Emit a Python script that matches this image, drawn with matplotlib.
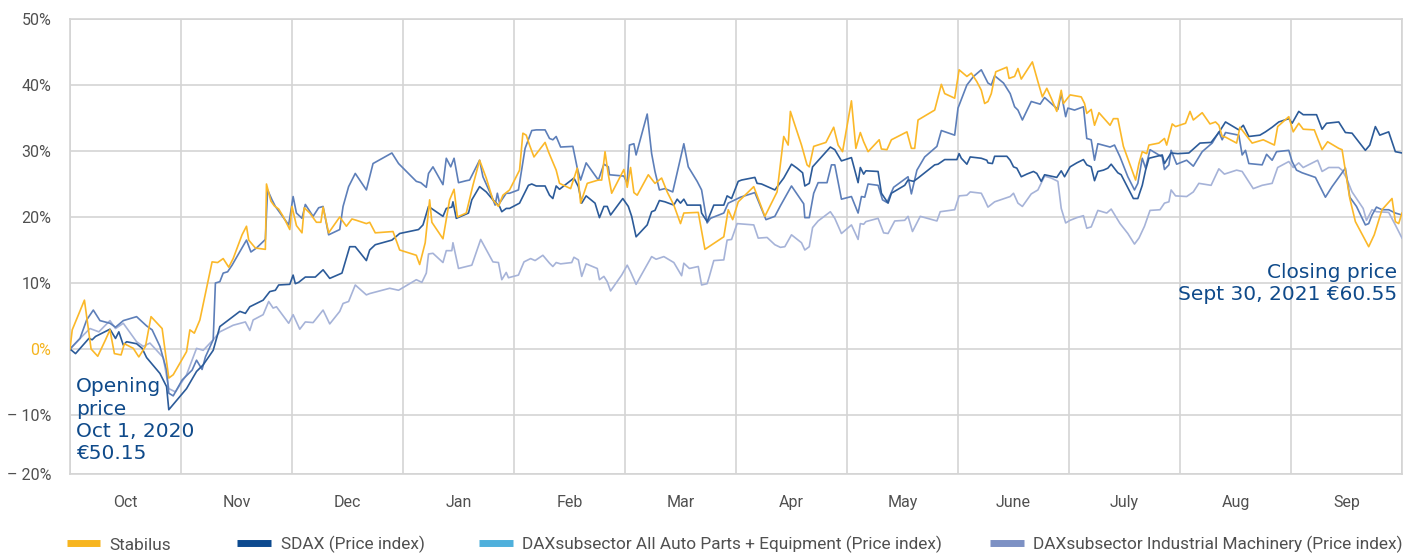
import matplotlib
matplotlib.use("Agg")
import matplotlib.pyplot as plt
from matplotlib.lines import Line2D

# ---- data: time in months since Oct 1, 2020; values in % change ----
months = ["Oct", "Nov", "Dec", "Jan", "Feb", "Mar", "Apr", "May", "June", "July", "Aug", "Sep"]
y_ticks = [50, 40, 30, 20, 10, 0, -10]
y_tick_labels = ["50%", "40%", "30%", "20%", "10%", "0%", "– 10%"]

stabilus_t = [0, .02, .13, .19, .25, .32, .36, .40, .46, .49, .57, .62, .68, .73, .83, .89, .93, 1.05, 1.08, 1.12,
              1.17, 1.28, 1.33, 1.38, 1.43, 1.47, 1.55, 1.59, 1.61, 1.67, 1.76, 1.77, 1.81, 1.84, 1.88, 1.92, 1.98,
              2.00, 2.04, 2.09, 2.11, 2.16, 2.22, 2.26, 2.28, 2.33, 2.43, 2.49, 2.54, 2.58, 2.67, 2.70, 2.75, 2.91,
              2.97, 3.12, 3.15, 3.20, 3.24, 3.26, 3.36, 3.42, 3.46, 3.49, 3.57, 3.63, 3.69, 3.75, 3.81, 3.86, 3.90,
              3.96, 4.05, 4.08, 4.11, 4.14, 4.18, 4.28, 4.31, 4.38, 4.41, 4.51, 4.57, 4.60, 4.66, 4.76, 4.79, 4.82,
              4.85, 4.88, 4.99, 5.02, 5.05, 5.08, 5.11, 5.21, 5.27, 5.33, 5.38, 5.44, 5.50, 5.53, 5.66, 5.72, 5.89,
              5.93, 5.97, 6.02, 6.16, 6.26, 6.37, 6.43, 6.47, 6.49, 6.59, 6.64, 6.66, 6.70, 6.81, 6.88, 6.92, 6.96,
              7.04, 7.08, 7.12, 7.15, 7.19, 7.29, 7.31, 7.36, 7.40, 7.54, 7.58, 7.61, 7.64, 7.79, 7.85, 7.88, 7.97,
              8.01, 8.08, 8.12, 8.17, 8.21, 8.24, 8.27, 8.30, 8.34, 8.44, 8.46, 8.51, 8.54, 8.57, 8.67, 8.72, 8.76,
              8.80, 8.84, 8.89, 8.93, 8.95, 9.01, 9.11, 9.14, 9.16, 9.20, 9.23, 9.27, 9.37, 9.40, 9.44, 9.49, 9.60,
              9.63, 9.66, 9.70, 9.72, 9.81, 9.86, 9.88, 9.93, 9.96, 10.05, 10.09, 10.12, 10.20, 10.27, 10.32, 10.35,
              10.38, 10.41, 10.51, 10.54, 10.65, 10.75, 10.85, 10.88, 10.98, 11.02, 11.07, 11.11, 11.21, 11.28,
              11.33, 11.43, 11.46, 11.53, 11.58, 11.70, 11.75, 11.82, 11.91, 11.94, 11.97, 12.0]
stabilus_v = [0, 2.9, 7.4, 0, -1.1, 1.4, 2.9, -0.7, -0.9, 0.8, 0.1, -1.2, 0.4, 4.9, 3.1, -4.4, -3.9, -0.4, 2.9, 2.4,
              4.4, 13.2, 13.1, 13.7, 12.4, 13.7, 17.3, 18.6, 16.5, 15.3, 15.1, 25.0, 22.4, 21.7, 21.2, 20.1, 18.1,
              21.6, 18.7, 17.6, 21.4, 20.6, 19.2, 19.2, 21.5, 17.6, 20.0, 18.6, 19.7, 19.5, 19.0, 19.2, 17.6, 17.8,
              15.0, 14.2, 12.8, 16.1, 22.6, 19.2, 16.7, 22.6, 24.2, 20.0, 20.6, 24.8, 28.6, 25.9, 22.6, 21.6, 23.3,
              24.1, 27.1, 32.7, 32.4, 30.9, 29.1, 31.3, 29.9, 27.1, 25.1, 24.3, 27.4, 22.1, 25.1, 25.6, 25.6, 29.9,
              26.4, 23.6, 27.2, 24.5, 27.5, 23.7, 23.3, 26.4, 25.1, 25.9, 23.8, 21.8, 19.0, 20.6, 20.7, 15.1, 17.0,
              21.1, 19.6, 22.3, 24.6, 20.1, 23.8, 32.2, 30.9, 36.0, 30.9, 27.9, 27.6, 30.7, 31.3, 33.6, 30.9, 29.9,
              37.6, 30.4, 32.8, 31.4, 29.9, 31.7, 30.3, 30.2, 31.7, 32.9, 30.4, 30.4, 34.7, 36.2, 40.1, 38.7, 38.0,
              42.3, 41.3, 41.8, 40.5, 39.2, 37.2, 37.5, 38.7, 42.0, 42.7, 41.0, 41.3, 42.5, 40.9, 43.5, 40.5, 38.2,
              39.5, 38.0, 36.0, 39.2, 37.2, 38.5, 38.2, 37.2, 35.7, 36.3, 33.9, 35.8, 33.9, 34.9, 34.9, 30.7, 25.6,
              28.1, 29.9, 29.6, 30.9, 31.2, 31.9, 30.9, 34.1, 33.7, 34.2, 36.0, 34.7, 35.8, 34.1, 34.4, 33.9,
              32.2, 32.1, 31.2, 33.6, 31.2, 31.7, 30.9, 33.7, 35.2, 32.9, 34.2, 33.3, 33.2, 30.2,
              31.4, 30.4, 30.2, 22.8, 19.3, 15.5, 17.3, 21.1, 22.8, 19.3, 19.0, 20.6]

sdax_t = [0, .05, .17, .20, .23, .36, .41, .44, .48, .51, .60, .65, .69, .81, .87, .89, 1.05, 1.14, 1.20, 1.29, 1.35,
          1.53, 1.58, 1.62, 1.74, 1.80, 1.85, 1.88, 1.98, 2.01, 2.03, 2.06, 2.12, 2.21, 2.28, 2.34, 2.45, 2.48, 2.52,
          2.57, 2.67, 2.70, 2.75, 2.90, 2.97, 3.14, 3.18, 3.23, 3.36, 3.39, 3.44, 3.45, 3.48, 3.59, 3.62, 3.69, 3.75,
          3.81, 3.87, 3.89, 3.93, 3.96, 4.05, 4.13, 4.16, 4.20, 4.28, 4.32, 4.35, 4.38, 4.41, 4.54, 4.58, 4.61, 4.65,
          4.73, 4.77, 4.81, 4.84, 4.87, 4.98, 5.03, 5.06, 5.10, 5.20, 5.24, 5.27, 5.31, 5.36, 5.44, 5.47, 5.50, 5.53,
          5.56, 5.68, 5.69, 5.74, 5.80, 5.89, 5.92, 5.96, 6.02, 6.05, 6.17, 6.19, 6.23, 6.35, 6.43, 6.50, 6.55, 6.60,
          6.62, 6.66, 6.69, 6.85, 6.89, 6.95, 7.04, 7.10, 7.12, 7.15, 7.17, 7.28, 7.31, 7.37, 7.40, 7.52, 7.55, 7.60,
          7.64, 7.79, 7.82, 7.88, 7.99, 8.01, 8.03, 8.08, 8.11, 8.21, 8.26, 8.27, 8.31, 8.33, 8.44, 8.47, 8.50, 8.53,
          8.57, 8.62, 8.68, 8.71, 8.75, 8.78, 8.89, 8.93, 8.96, 9.01, 9.07, 9.13, 9.16, 9.20, 9.23, 9.26, 9.31, 9.35,
          9.38, 9.44, 9.47, 9.58, 9.62, 9.66, 9.69, 9.72, 9.84, 9.86, 9.92, 9.98, 10.08, 10.18, 10.28, 10.35, 10.41,
          10.53, 10.57, 10.62, 10.72, 10.77, 10.83, 10.89, 10.98, 11.01, 11.07, 11.11, 11.23, 11.28, 11.32, 11.43,
          11.49, 11.55, 11.67, 11.71, 11.76, 11.80, 11.88, 11.94, 12.0]
sdax_v = [0, -0.7, 1.6, 1.4, 1.9, 3.0, 1.6, 2.6, 0.6, 1.1, 0.8, 0.1, -1.3, -3.7, -5.7, -9.2, -6.0, -3.4, -2.4, -0.2,
          3.4, 5.7, 5.4, 6.4, 7.4, 8.7, 8.9, 9.7, 9.8, 11.2, 9.9, 10.1, 10.9, 10.9, 12.0, 10.7, 11.5, 13.2, 15.5,
          15.5, 13.4, 15.0, 15.8, 16.5, 17.5, 18.1, 18.8, 21.6, 20.1, 21.3, 21.5, 22.3, 19.8, 20.6, 22.6, 24.6, 23.8,
          22.6, 21.6, 20.8, 21.3, 21.3, 22.1, 24.8, 25.0, 24.7, 24.7, 23.3, 22.8, 24.7, 24.2, 25.9, 24.6, 22.1, 23.2,
          22.1, 19.9, 21.6, 21.6, 20.3, 22.8, 21.6, 20.1, 17.0, 18.8, 20.8, 21.0, 22.5, 22.3, 21.8, 22.7, 22.1, 22.7,
          21.8, 21.8, 20.6, 19.3, 21.8, 21.8, 23.2, 22.8, 25.4, 25.6, 26.0, 25.1, 25.0, 24.1, 25.9, 28.0, 27.4, 26.7,
          24.7, 25.1, 27.6, 30.6, 30.2, 28.5, 29.0, 25.2, 27.5, 26.5, 27.0, 26.9, 23.6, 22.1, 23.6, 24.8, 25.6, 25.4,
          25.9, 27.9, 28.0, 28.7, 28.7, 29.6, 28.9, 28.0, 29.1, 28.9, 28.6, 28.2, 28.1, 29.2, 29.2, 28.6, 27.6, 27.4,
          26.1, 26.5, 26.9, 26.6, 25.4, 26.4, 26.0, 27.0, 26.1, 27.6, 28.2, 28.7, 27.9, 27.6, 25.5, 26.9, 27.1, 27.4,
          28.0, 26.7, 26.4, 22.8, 22.8, 24.8, 27.1, 28.9, 29.4, 28.1, 29.7, 29.6, 29.7, 31.2, 31.3, 32.8, 34.4,
          33.2, 33.9, 32.2, 32.4, 32.9, 33.6, 34.4, 34.9, 34.2, 36.0, 35.5, 35.5, 33.3, 34.2, 34.4,
          32.8, 32.7, 30.1, 30.9, 33.7, 32.4, 32.9, 29.9, 29.7]

auto_t = [0, .09, .15, .21, .27, .36, .41, .48, .60, .69, .74, .81, .87, .89, .93, 1.01, 1.10, 1.14, 1.19, 1.22, 1.29,
          1.31, 1.35, 1.38, 1.42, 1.46, 1.59, 1.63, 1.68, 1.76, 1.78, 1.82, 1.85, 1.97, 2.01, 2.04, 2.09, 2.12, 2.19,
          2.24, 2.28, 2.33, 2.43, 2.46, 2.51, 2.57, 2.67, 2.73, 2.90, 2.96, 3.12, 3.16, 3.21, 3.23, 3.27, 3.36, 3.39,
          3.43, 3.46, 3.50, 3.57, 3.60, 3.69, 3.72, 3.80, 3.83, 3.85, 3.87, 3.93, 3.96, 4.04, 4.10, 4.16, 4.20, 4.28,
          4.32, 4.35, 4.38, 4.42, 4.53, 4.57, 4.60, 4.65, 4.76, 4.81, 4.85, 4.86, 4.99, 5.02, 5.04, 5.08, 5.10, 5.20,
          5.24, 5.27, 5.31, 5.36, 5.43, 5.53, 5.57, 5.65, 5.69, 5.74, 5.77, 5.89, 5.93, 6.04, 6.17, 6.27, 6.35, 6.40,
          6.50, 6.61, 6.62, 6.66, 6.70, 6.74, 6.82, 6.86, 6.89, 6.95, 7.04, 7.10, 7.13, 7.16, 7.19, 7.28, 7.32, 7.36,
          7.42, 7.55, 7.58, 7.63, 7.70, 7.81, 7.85, 7.97, 8.00, 8.08, 8.14, 8.21, 8.27, 8.30, 8.33, 8.41, 8.47, 8.51,
          8.54, 8.58, 8.66, 8.74, 8.78, 8.90, 8.93, 8.97, 8.99, 9.05, 9.13, 9.16, 9.20, 9.23, 9.26, 9.37, 9.41, 9.46,
          9.53, 9.59, 9.62, 9.66, 9.69, 9.73, 9.84, 9.86, 9.90, 9.92, 9.97, 10.06, 10.12, 10.20, 10.29, 10.35, 10.38,
          10.41, 10.53, 10.56, 10.59, 10.62, 10.74, 10.78, 10.83, 10.87, 10.98, 11.01, 11.05, 11.10, 11.22, 11.31,
          11.37, 11.43, 11.49, 11.53, 11.59, 11.67, 11.70, 11.73, 11.77, 11.82, 11.88, 11.94, 12.0]
auto_v = [0, 1.6, 4.4, 5.9, 4.3, 3.9, 3.3, 4.3, 4.9, 3.5, 2.9, 0.4, -3.2, -6.7, -7.1, -4.7, -3.2, -1.7, -3.1, -1.2, 1.4,
          10.0, 10.2, 11.5, 11.7, 12.7, 16.5, 14.7, 15.3, 16.6, 24.1, 22.6, 21.6, 18.8, 23.1, 20.6, 19.8, 21.9, 20.1,
          21.4, 21.6, 17.3, 18.1, 21.6, 24.6, 26.6, 24.1, 28.1, 29.7, 28.1, 25.4, 25.2, 24.5, 26.6, 27.6, 24.9, 28.9,
          27.6, 28.9, 25.2, 25.5, 25.6, 28.6, 26.1, 23.1, 21.8, 23.6, 22.1, 23.6, 23.6, 24.1, 30.4, 33.1, 33.2, 33.2,
          31.9, 31.7, 32.2, 30.6, 30.7, 27.4, 25.6, 28.2, 25.6, 28.0, 27.6, 26.4, 26.2, 25.1, 30.9, 31.1, 29.4, 35.6,
          29.6, 26.9, 24.1, 24.3, 23.8, 31.1, 27.6, 25.4, 24.1, 19.1, 19.8, 20.6, 22.1, 23.0, 23.7, 19.6, 20.1, 21.7,
          24.7, 22.0, 19.9, 19.9, 23.6, 25.2, 25.2, 27.9, 27.9, 22.7, 23.1, 20.6, 23.1, 23.0, 25.0, 24.8, 22.6, 22.2,
          24.5, 26.1, 23.5, 27.1, 29.1, 30.7, 33.1, 32.4, 36.5, 40.0, 41.3, 42.3, 40.3, 40.0, 41.4, 40.3, 38.7, 36.7,
          36.2, 34.7, 37.5, 37.1, 38.1, 36.3, 38.7, 35.2, 36.5, 36.2, 36.7, 31.9, 31.7, 28.6, 31.1, 30.6, 30.9, 29.1,
          26.1, 24.1, 25.1, 28.9, 27.4, 30.2, 29.1, 27.2, 27.9, 30.1, 28.0, 28.6, 27.7, 29.9, 31.2, 32.9, 31.7,
          32.8, 32.4, 29.4, 30.1, 28.1, 27.9, 29.5, 28.6, 29.9, 30.1, 28.4, 27.1, 26.7, 26.0, 23.0,
          24.6, 26.0, 27.4, 23.0, 21.6, 18.8, 19.0, 20.3, 21.5, 21.1, 21.1, 20.6, 20.3]

mach_t = [0, .12, .18, .26, .36, .41, .48, .60, .66, .72, .84, .89, .95, 1.05, 1.14, 1.20, 1.29, 1.35, 1.47, 1.58,
          1.62, 1.65, 1.74, 1.79, 1.83, 1.86, 1.97, 2.01, 2.07, 2.12, 2.19, 2.28, 2.34, 2.43, 2.46, 2.51, 2.57, 2.67,
          2.70, 2.88, 2.96, 3.12, 3.17, 3.21, 3.23, 3.27, 3.36, 3.39, 3.44, 3.45, 3.50, 3.62, 3.70, 3.81, 3.86, 3.89,
          3.93, 3.95, 4.04, 4.09, 4.15, 4.19, 4.26, 4.32, 4.35, 4.38, 4.42, 4.52, 4.54, 4.58, 4.61, 4.65, 4.75, 4.77,
          4.81, 4.84, 4.87, 4.97, 5.02, 5.05, 5.10, 5.24, 5.28, 5.35, 5.44, 5.51, 5.53, 5.58, 5.66, 5.69, 5.74, 5.76,
          5.80, 5.89, 5.92, 5.96, 6.01, 6.16, 6.20, 6.28, 6.35, 6.40, 6.44, 6.50, 6.59, 6.62, 6.66, 6.69, 6.74, 6.85,
          6.89, 6.95, 7.04, 7.10, 7.12, 7.15, 7.17, 7.28, 7.33, 7.37, 7.43, 7.52, 7.55, 7.59, 7.66, 7.81, 7.84, 7.97,
          8.01, 8.08, 8.11, 8.21, 8.24, 8.27, 8.33, 8.47, 8.50, 8.54, 8.58, 8.66, 8.72, 8.78, 8.84, 8.90, 8.93, 8.97,
          9.01, 9.07, 9.13, 9.16, 9.20, 9.26, 9.34, 9.38, 9.46, 9.53, 9.59, 9.63, 9.68, 9.73, 9.82, 9.86, 9.90, 9.92,
          9.96, 10.06, 10.12, 10.17, 10.28, 10.35, 10.40, 10.51, 10.56, 10.66, 10.74, 10.83, 10.88, 10.98, 11.02,
          11.07, 11.11, 11.24, 11.28, 11.34, 11.43, 11.46, 11.50, 11.55, 11.59, 11.65, 11.68, 11.73, 11.77, 11.88,
          11.94, 12.0]
mach_v = [0, 2.1, 3.1, 2.6, 4.3, 3.1, 3.9, 1.1, 0.4, 0.9, -1.3, -6.0, -6.5, -3.9, 0.1, -0.2, 1.4, 2.6, 3.6, 4.1,
          2.8, 4.4, 5.2, 7.2, 6.2, 6.4, 3.9, 5.2, 3.0, 4.1, 4.0, 5.9, 3.8, 5.7, 6.9, 7.2, 9.7, 8.2,
          8.4, 9.2, 8.9, 10.5, 10.1, 11.5, 14.4, 14.5, 13.1, 14.9, 14.9, 16.1, 12.2, 12.7, 16.6, 13.2, 13.1, 10.5,
          11.6, 10.8, 11.2, 13.2, 13.7, 13.4, 14.2, 13.0, 12.5, 13.1, 12.9, 13.1, 13.9, 13.5, 11.0, 12.9, 12.2, 10.5,
          11.0, 10.2, 8.8, 11.2, 12.7, 11.7, 9.8, 14.0, 13.6, 14.0, 13.1, 11.1, 13.0, 12.2, 12.5, 9.7, 9.9, 11.0,
          13.4, 13.5, 16.5, 16.6, 19.0, 18.8, 16.8, 16.9, 15.8, 15.4, 15.5, 17.3, 16.1, 15.0, 15.5, 18.4, 19.4, 20.8,
          19.8, 17.5, 18.8, 16.6, 19.0, 18.9, 19.3, 19.8, 17.6, 17.5, 19.4, 19.5, 20.1, 17.8, 20.1, 19.4, 20.8, 21.1,
          23.2, 23.3, 23.8, 23.6, 22.6, 21.5, 22.3, 23.1, 23.6, 22.1, 21.6, 23.5, 24.1, 26.2, 25.9, 25.4, 21.3, 19.1,
          19.5, 19.9, 20.2, 18.3, 18.5, 21.0, 20.6, 21.2, 19.0, 17.5, 15.9, 16.8, 18.6, 21.0, 21.1, 22.1, 22.3, 24.1,
          23.2, 23.1, 23.8, 25.1, 24.8, 27.3, 26.5, 27.1, 26.9, 24.3, 24.8, 25.1, 27.5, 28.4, 27.5,
          28.2, 27.5, 28.6, 26.9, 27.5, 27.5, 27.1, 25.9, 23.8, 22.8, 21.3, 19.5, 21.1, 20.8, 20.7,
          18.8, 16.8]

series_names = ["Stabilus", "SDAX (Price index)", "DAXsubsector All Auto Parts + Equipment (Price index)",
                "DAXsubsector Industrial Machinery (Price index)"]

# ---- styles ----
C_STAB = "#fbb829"
C_SDAX = "#2c5b99"
C_AUTO = "#5d7fb9"
C_MACH = "#a6b3d8"
LEG_COLORS = ["#f7b520", "#0d4a8f", "#4fb0dc", "#7d91c4"]
GRID = "#d4d4d4"
TXT = "#505050"
ANN = "#0f4a8a"
FONT = ["Roboto", "DejaVu Sans"]

W, H = 1404, 553
fig = plt.figure(figsize=(W / 100, H / 100), dpi=100)
L, R, T, B = 70, 1402, 19, 474
ax = fig.add_axes([L / W, (H - B) / H, (R - L) / W, (B - T) / H])

y_bottom = -10 - (B - 415) / 6.6
ax.set_xlim(0, 12)
ax.set_ylim(y_bottom, 50)

ax.plot(mach_t, mach_v, color=C_MACH, lw=1.2, zorder=3)
ax.plot(auto_t, auto_v, color=C_AUTO, lw=1.2, zorder=4)
ax.plot(sdax_t, sdax_v, color=C_SDAX, lw=1.2, zorder=5)
ax.plot(stabilus_t, stabilus_v, color=C_STAB, lw=1.2, zorder=6)

# grid
ax.set_xticks(range(13))
ax.set_xticklabels([""] * 13)
ax.set_xticks([i + 0.5 for i in range(12)], minor=True)
ax.set_xticklabels(months, minor=True, fontsize=11.5, color=TXT, family=FONT)
ax.set_yticks(y_ticks + [y_bottom])
ax.set_yticklabels(y_tick_labels + ["– 20%"], fontsize=11.5, color=TXT, family=FONT)
for lab in ax.get_yticklabels():
    if lab.get_text() == "0%":
        lab.set_color("#f5b41e")
ax.tick_params(axis="both", which="both", length=0)
ax.tick_params(axis="y", pad=13.5)
ax.tick_params(axis="x", which="minor", pad=15)
ax.grid(True, which="major", color=GRID, lw=1.2, zorder=0)
for s in ax.spines.values():
    s.set_color(GRID)
    s.set_linewidth(1.2)

# annotations
def ftxt(x, y, s, **kw):
    fig.text(x / W, 1 - y / H, s, **kw)

for i, line in enumerate(["Opening", "price", "Oct 1, 2020", "€50.15"]):
    ftxt(76, 392.5 + i * 22.2, line, color=ANN, fontsize=14.5, family="DejaVu Sans", va="baseline", ha="left")
ftxt(1397, 278.5, "Closing price", color=ANN, fontsize=14.5, family="DejaVu Sans", va="baseline", ha="right")
ftxt(1397, 300.5, "Sept 30, 2021 €60.55", color=ANN, fontsize=14.5, family="DejaVu Sans", va="baseline", ha="right")

# legend
leg_x = [(67, 100, 109), (237, 271, 281), (479, 513, 522), (990, 1024, 1033)]
for (x0, x1, xt), name, col in zip(leg_x, series_names, LEG_COLORS):
    fig.add_artist(Line2D([x0 / W, x1 / W], [1 - 543 / H, 1 - 543 / H], color=col, lw=5, solid_capstyle="butt"))
    ftxt(xt, 549.5, name, color=TXT, fontsize=12.4, family=FONT, va="baseline", ha="left")

fig.savefig("out.png", dpi=100)
